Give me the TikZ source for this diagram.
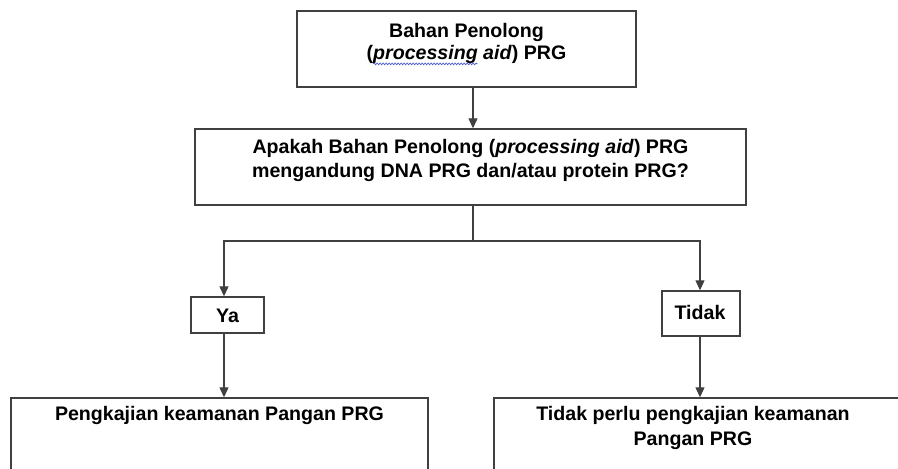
\documentclass[tikz,border=0pt]{standalone}
\usepackage{fontspec}
\setmainfont{Liberation Sans}
\usetikzlibrary{arrows.meta,decorations.pathmorphing}
\definecolor{linegray}{HTML}{404040}
\definecolor{wavecol}{HTML}{4A5BD0}
\newsavebox\sqbox
\newcommand\spellwave[1]{\sbox\sqbox{#1}\rlap{\usebox\sqbox}\tikz[overlay]\draw[wavecol,line width=0.7pt,decorate,decoration={snake,amplitude=0.9pt,segment length=3pt}] (0pt,-4.8pt) -- (\wd\sqbox,-4.8pt);\hspace{\wd\sqbox}}
\begin{document}
\begin{tikzpicture}[x=1pt,y=-1pt,
  box/.style={draw=linegray,line width=1.4pt,rectangle,inner sep=0pt},
  txt/.style={font=\fontsize{19.6}{23}\selectfont\bfseries,align=center,inner sep=0pt,text=black},
  conn/.style={draw=linegray,line width=1.2pt},
  arr/.style={conn,-{Triangle[length=10pt,width=9pt]}}]
\useasboundingbox (0,0) rectangle (898,469);
\clip (0,0) rectangle (898,469);
% boxes
\node[box,minimum width=339pt,minimum height=76pt] (top) at (466.5,49) {};
\node[txt,font=\fontsize{19.6}{22}\selectfont\bfseries] (toptxt) at (466.5,43) {Bahan Penolong\\(\textit{\spellwave{processing} aid}) PRG};
\node[box,minimum width=551pt,minimum height=76pt] (q) at (470.5,167) {};
\node[txt,font=\fontsize{19.6}{24}\selectfont\bfseries] (qtxt) at (470.5,160) {Apakah Bahan Penolong (\textit{processing aid}) PRG\\mengandung DNA PRG dan/atau protein PRG?};
\node[box,minimum width=73pt,minimum height=36pt] (ya) at (227.5,315) {};
\node[txt] (yatxt) at (227.5,316) {Ya};
\node[box,minimum width=78pt,minimum height=45pt] (tidak) at (701,313.5) {};
\node[txt] (tidaktxt) at (700,312) {Tidak};
\node[box,minimum width=417pt,minimum height=102pt] (lb) at (219.5,449) {};
\node[txt] (lbtxt) at (219.5,415) {Pengkajian keamanan Pangan PRG};
\node[box,minimum width=426pt,minimum height=102pt] (rb) at (707,449) {};
\node[txt,font=\fontsize{19.6}{25}\selectfont\bfseries] (rbtxt) at (693,428) {Tidak perlu pengkajian keamanan\\Pangan PRG};
% connectors
\coordinate (j) at (473,241);
\coordinate (jl) at (224,241);
\coordinate (jr) at (700,241);
\draw[arr] (top.south -| j) -- (q.north -| j);
\draw[arr] (q.south -| j) -- (j) -- (jl) -- (ya.north -| jl);
\draw[arr] (j) -- (jr) -- (tidak.north -| jr);
\draw[arr] (ya.south -| jl) -- (lb.north -| jl);
\draw[arr] (tidak.south -| jr) -- (rb.north -| jr);
\end{tikzpicture}
\end{document}
